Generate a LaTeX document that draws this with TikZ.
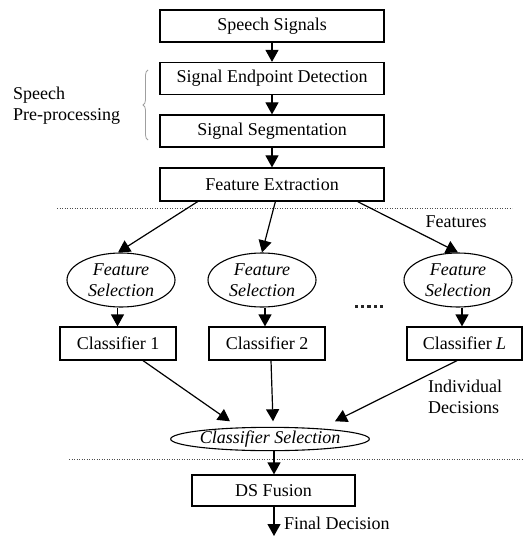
\documentclass[tikz,border=0pt]{standalone}
\usepackage{fontspec}
\setmainfont{Liberation Serif}
\usetikzlibrary{shapes.geometric,arrows.meta,calc,decorations.pathreplacing}

\begin{document}
\begin{tikzpicture}[
  x=1pt, y=-1pt,
  every node/.style={font=\fontsize{18}{21}\selectfont, inner sep=0pt},
  box/.style={draw, line width=1.2pt, rectangle, minimum height=32pt},
  oval/.style={draw, line width=1.1pt, ellipse, align=center, font=\fontsize{18}{21}\selectfont\itshape},
  flow/.style={line width=1.2pt, -{Triangle[length=12pt,width=13pt]}},
  sep/.style={black!70, line width=1pt, dash pattern=on 1.3pt off 1.2pt},
  lbl/.style={align=left, anchor=west}
]
\useasboundingbox (0,0) rectangle (531,537);

% pre-processing chain
\node[box, minimum width=224pt] (ss)   at (272,26)    {Speech Signals};
\node[box, minimum width=224pt] (sed)  at (272,78.5)  {Signal Endpoint Detection};
\node[box, minimum width=224pt] (sseg) at (272,131)   {Signal Segmentation};
\node[box, minimum width=224pt, minimum height=33pt] (fe) at (272,184.5) {Feature Extraction};

\draw[flow] (ss) -- (sed);
\draw[flow] (sed) -- (sseg);
\draw[flow] (sseg) -- (fe);

\draw[gray!75, line width=0.8pt, decorate, decoration={brace, amplitude=5pt}]
  (148,140) -- (148,70);
\node[lbl] (pre) at (13,106) {Speech\\Pre-processing};

\draw[sep] (57,208) -- (512,208);

% feature selection branches
\node[oval, minimum width=108pt, minimum height=54pt] (fs1) at (121,280) {Feature\\Selection};
\node[oval, minimum width=108pt, minimum height=54pt] (fs2) at (262,280) {Feature\\Selection};
\node[oval, minimum width=108pt, minimum height=54pt] (fsL) at (458,280) {Feature\\Selection};

\draw[flow] ($(fe.south west)!0.17!(fe.south east)$) -- ($(fs1.north)+(-3,0)$);
\draw[flow] ($(fe.south west)!0.515!(fe.south east)$) -- (fs2.north);
\draw[flow] ($(fe.south west)!0.88!(fe.south east)$) -- (fsL.north);

\node (feat) at (456,222) {Features};

% gap between the second and the last branch
\foreach \i in {0,...,4}
  \fill[black!85] (355+6.2*\i,304.5) rectangle ++(3.2,3.2);

% classifiers
\node[box, minimum width=116pt, minimum height=33pt] (c1) at (118,343.5)   {Classifier 1};
\node[box, minimum width=116pt, minimum height=33pt] (c2) at (267,343.5)   {Classifier 2};
\node[box, minimum width=115pt, minimum height=33pt] (cL) at (464.5,343.5) {Classifier \textit{L}};

\coordinate (f1) at ($(fs1.south)+(-3.5,0)$);
\coordinate (f2) at ($(fs2.south)+(3,0)$);
\coordinate (fL) at ($(fsL.south)+(4,0)$);
\draw[flow] (f1) -- (f1 |- c1.north);
\draw[flow] (f2) -- (f2 |- c2.north);
\draw[flow] (fL) -- (fL |- cL.north);

% classifier selection
\node[oval, minimum width=172pt, minimum height=23pt] (cs) at (270,439) {Classifier Selection};

\draw[flow] ($(c1.south)+(25,0)$) -- ($(cs.north)+(-40,-5.5)$);
\draw[flow] ($(c2.south)+(4,0)$) -- ($(cs.north)+(3,-5.5)$);
\draw[flow] ($(cL.south)+(-7.5,0)$) -- ($(cs.north)+(65,-5.5)$);

\node[lbl] (indiv) at (428,396.5) {Individual\\Decisions};

\draw[sep] (69,459) -- (523,459);

% fusion
\node[box, minimum width=163pt, minimum height=31pt] (ds) at (273.5,490.5) {DS Fusion};
\coordinate (cdown) at ($(cs.south)+(4,0)$);
\draw[flow] (cdown) -- (cdown |- ds.north);

\coordinate (out) at (274,536);
\draw[flow] (ds.south -| out) -- (out);
\node[anchor=west] (final) at (284,523) {Final Decision};
\end{tikzpicture}
\end{document}
